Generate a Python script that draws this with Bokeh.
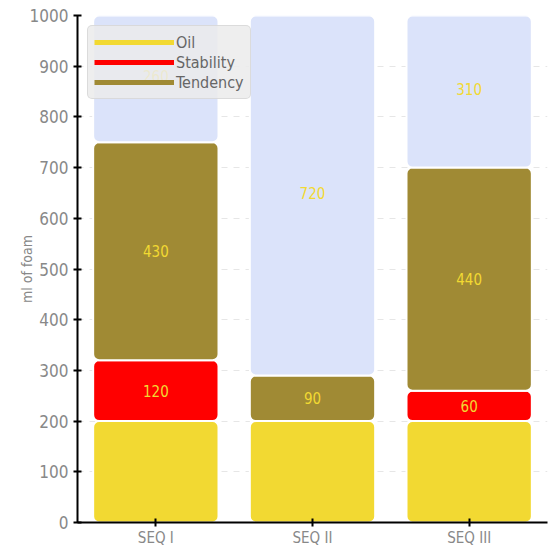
from bokeh.plotting import figure
from bokeh.models import ColumnDataSource, Legend, LegendItem, Range1d, FactorRange
from bokeh.core.properties import value
from bokeh.embed import file_html
from bokeh.resources import INLINE

categories = ["SEQ I", "SEQ II", "SEQ III"]
oil = [200, 200, 200]
stability = [120, 0, 60]
tendency = [430, 90, 440]
remaining = [260, 720, 310]
series_names = ["Oil", "Stability", "Tendency", "Remaining"]
colors = ["#f2d932", "#ff0000", "#a08a34", "#dbe3fa"]
label_color = "#f2d932"
FONT = "DejaVu Sans Condensed"

data = {"cat": categories, "Oil": oil, "Stability": stability,
        "Tendency": tendency, "Remaining": remaining}
src = ColumnDataSource(data)

p = figure(x_range=FactorRange(*categories), y_range=Range1d(0, 1000),
           width=556, height=551, output_backend="svg", toolbar_location=None,
           min_border_left=77, min_border_right=9, min_border_top=15, min_border_bottom=29)
p.background_fill_color = "white"
p.border_fill_color = "white"
p.outline_line_color = None

p.vbar_stack(series_names, x="cat", width=0.8, source=src, color=colors,
             line_color="white", line_width=2, border_radius=6)

# segment labels
lx, ly, lt = [], [], []
for i, c in enumerate(categories):
    base = 0
    for s in [oil, stability, tendency, remaining]:
        v = s[i]
        if v > 0:
            lx.append(c)
            ly.append(base + v / 2)
            lt.append(str(v))
        base += v
lsrc = ColumnDataSource(dict(x=lx, y=ly, t=lt))
p.text(x="x", y="y", text="t", source=lsrc, text_color=label_color,
       text_align="center", text_baseline="middle", text_font_size="15px",
       text_font=value(FONT))

# legend dummy lines
items = []
for name, col in zip(series_names[:3], colors[:3]):
    r = p.line(x=[categories[0], categories[0]], y=[-100, -100], line_color=col, line_width=5)
    items.append(LegendItem(label=name, renderers=[r]))
legend = Legend(items=items, location="top_left", margin=10,
                glyph_width=80, glyph_height=20, label_height=20, spacing=0,
                label_standoff=2, padding=6,
                label_text_font=FONT, label_text_font_size="16px", label_text_color="#666666",
                background_fill_color="#ebebeb", background_fill_alpha=0.85,
                border_line_color="#c8c8c8", border_line_width=1,
                border_radius=5)
p.add_layout(legend, "center")

p.xgrid.grid_line_color = None
p.ygrid.grid_line_color = "#e6e6e6"
p.ygrid.grid_line_dash = "6 6"
p.yaxis.ticker = list(range(0, 1001, 100))
p.yaxis.minor_tick_line_color = None
p.yaxis.major_tick_in = 4
p.yaxis.major_tick_out = 4
p.xaxis.major_tick_in = 4
p.xaxis.major_tick_out = 4
for ax in (p.xaxis, p.yaxis):
    ax.axis_line_color = "black"
    ax.axis_line_width = 2
    ax.major_tick_line_color = "black"
    ax.major_tick_line_width = 2
    ax.major_label_text_font = FONT
    ax.major_label_text_color = "#888888"
p.yaxis.major_label_text_font_size = "17px"
p.xaxis.major_label_text_font_size = "15px"
p.xaxis.major_label_standoff = 2
p.yaxis.axis_label = "ml of foam"
p.yaxis.axis_label_text_font = FONT
p.yaxis.axis_label_text_font_style = "normal"
p.yaxis.axis_label_text_font_size = "14px"
p.yaxis.axis_label_text_color = "#888888"
p.yaxis.axis_label_standoff = -8
p.x_range.range_padding = 0
p.x_range.group_padding = 0

open("out.html", "w").write(file_html(p, INLINE))
